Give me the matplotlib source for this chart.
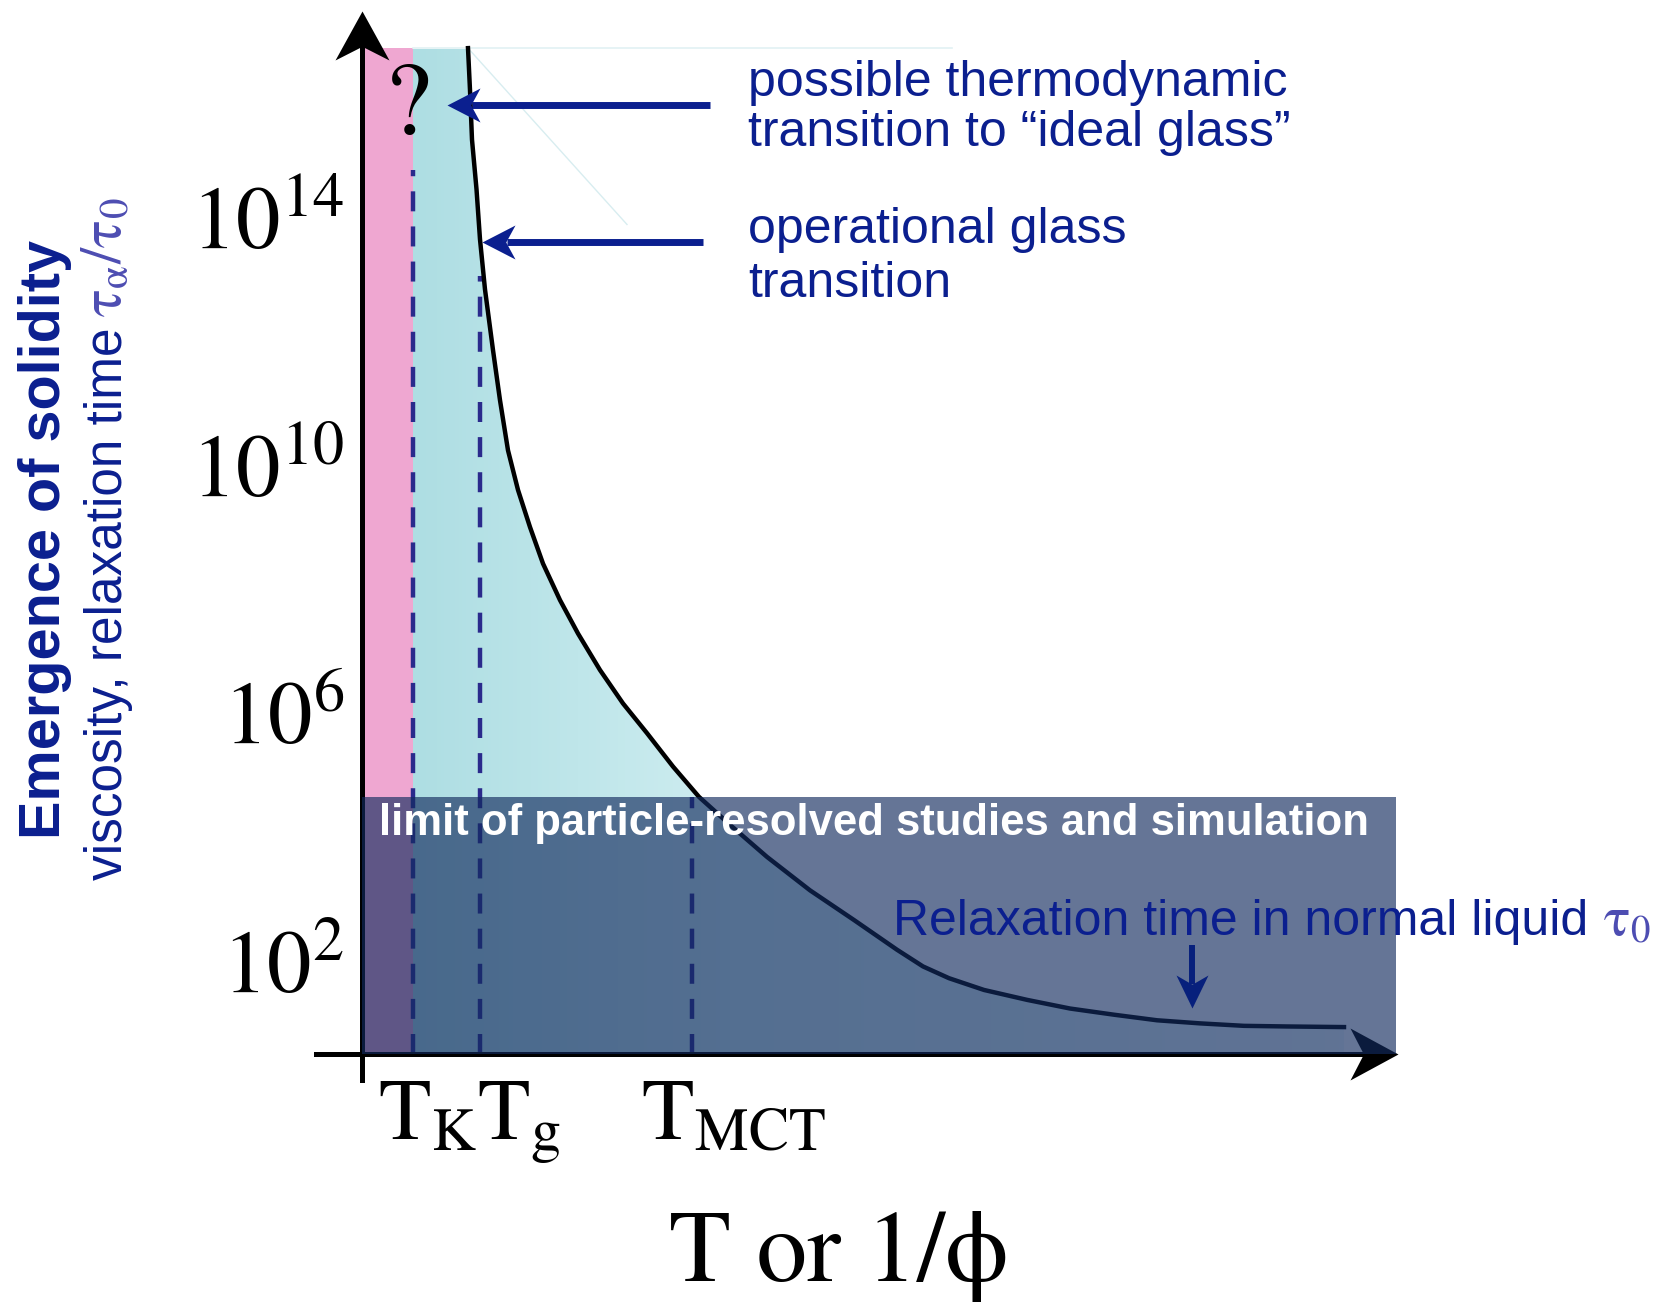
import numpy as np
import matplotlib
matplotlib.use("Agg")
import matplotlib.pyplot as plt
from matplotlib.path import Path
from matplotlib.colors import LinearSegmentedColormap
from matplotlib.ticker import NullLocator

plt.rcParams['font.family'] = ['Liberation Sans', 'DejaVu Sans']
plt.rcParams['mathtext.fontset'] = 'stix'
plt.rcParams['mathtext.default'] = 'rm'

# ---- data (x in arbitrary T units, y as log10 of tau_alpha/tau_0) ----
T_K, T_g, T_MCT = 0.51, 1.18, 3.30
curve_T = [1.06, 1.08, 1.10, 1.145, 1.18, 1.23, 1.31, 1.38, 1.46, 1.56, 1.68,
           1.81, 1.98, 2.16, 2.38, 2.61, 2.85, 3.11, 3.37, 3.70, 4.05, 4.48,
           4.92, 5.35, 5.61, 5.87, 6.22, 6.65, 7.08, 7.52, 7.95, 8.38, 8.82,
           9.25, 9.82]
curve_logtau = [16.72, 16.04, 15.24, 14.44, 13.63, 12.82, 11.84, 11.03, 10.22,
                9.58, 8.98, 8.39, 7.80, 7.26, 6.67, 6.13, 5.65, 5.11, 4.62, 4.14,
                3.65, 3.11, 2.63, 2.15, 1.88, 1.69, 1.50, 1.34, 1.20, 1.10, 1.01,
                0.96, 0.92, 0.91, 0.90]
tick_exp = [2, 6, 10, 14]
tick_labels = [r'$10^{2}$', r'$10^{6}$', r'$10^{10}$', r'$10^{14}$']
T_names = [r'$\mathrm{T_K}$', r'$\mathrm{T_g}$', r'$\mathrm{T_{MCT}}$']
sim_limit = 4.62      # log10 tau reachable by particle-resolved studies
top_log = 16.72
tk_dash_top, tg_dash_top = 14.75, 13.03

NAVY = '#0b1f8f'
TAU_C = '#4d4db2'
W, H = 1661, 1302

fig = plt.figure(figsize=(W / 100, H / 100), dpi=100)
ax = fig.add_axes([362 / W, 1 - 1054 / H, (1398 - 362) / W, (1054 - 11) / H])
ax.set_yscale('log')
ylo, yhi = 10 ** 0.465, 10 ** 17.32
xlo, xhi = 0, 10.36

curve_tau = [10 ** v for v in curve_logtau]
ytop = 10 ** top_log


def fx(px):
    return px / W


def fy(py):
    return 1 - py / H


def head(x, y, angle, length, halfw, color, z):
    w = halfw / length
    v = np.array([[0, 0], [-1, w], [-0.72, 0], [-1, -w], [0, 0]])
    a = np.deg2rad(angle)
    R = np.array([[np.cos(a), -np.sin(a)], [np.sin(a), np.cos(a)]])
    v = v @ R.T
    p = Path(v, [Path.MOVETO, Path.LINETO, Path.LINETO, Path.LINETO, Path.CLOSEPOLY])
    ax.plot([x], [y], marker=p, ms=1.44 * length, color=color, mew=0,
            ls='none', clip_on=False, zorder=z)


# pink region (below T_K)
ax.fill_between([0, T_K], ylo, ytop, color='#efa7d1', lw=0, zorder=1)

# cyan gradient region under the curve
poly = ax.fill_between([T_K] + curve_T, [ytop] + curve_tau, ylo,
                       facecolor='none', lw=0, zorder=1)
cmap = LinearSegmentedColormap.from_list(
    'cy', [(0, '#aedee3'), (0.35, '#d0eef1'), (1, '#f2fafb')])
im = ax.imshow(np.linspace(0, 1, 256)[None, :], cmap=cmap, aspect='auto',
               extent=(T_K, curve_T[-1], ylo, ytop), origin='lower', zorder=1,
               interpolation='bilinear')
im.set_clip_path(poly.get_paths()[0], transform=ax.transData)

# faint top border and diagonal artefact
ax.plot([T_K, 5.9], [ytop, ytop], color='#e2f1f3', lw=1.2, zorder=1)
ax.plot([curve_T[0], 2.65], [ytop, 10 ** 13.87], color='#d8edf0', lw=1.0, zorder=1)

# dashed temperature markers
dash = dict(color='#2a2a8c', lw=3.2, ls=(0, (4.5, 3.4)), zorder=2)
ax.plot([T_K, T_K], [ylo, 10 ** tk_dash_top], **dash)
ax.plot([T_g, T_g], [ylo, 10 ** tg_dash_top], **dash)
ax.plot([T_MCT, T_MCT], [ylo, 10 ** sim_limit], **dash)

# relaxation time curve
ax.plot(curve_T, curve_tau, color='black', lw=3.2, zorder=3)

# axes with arrows
ax.plot([-0.46, 10.0], [ylo, ylo], color='black', lw=3.6, clip_on=False, zorder=4)
head(xhi, ylo, 0, 48, 26, 'black', 4)
ax.plot([0, 0], [10 ** 0.045, 10 ** 16.8], color='black', lw=3.6, clip_on=False, zorder=4)
head(0, yhi, 90, 49, 27, 'black', 4)

# limit of simulations band
ax.fill_between([0, 10.34], ylo, 10 ** sim_limit, color=(0.07, 0.17, 0.37),
                alpha=0.65, lw=0, zorder=5)

# navy annotation arrows
for tail, tip, ly in [(3.48, 0.847, 15.80), (3.41, 1.197, 13.59)]:
    ax.plot([tail, tip + 0.25], [10 ** ly, 10 ** ly], color=NAVY, lw=5,
            solid_capstyle='butt', zorder=6)
    head(tip, 10 ** ly, 180, 33, 17, NAVY, 6)
ax.plot([8.30, 8.30], [10 ** 2.23, 10 ** 1.60], color='#07207c', lw=4.3,
        solid_capstyle='butt', zorder=6)
head(8.30, 10 ** 1.21, -90, 33, 16, '#07207c', 6)

ax.set_xlim(xlo, xhi)
ax.set_ylim(ylo, yhi)
ax.set_aspect('auto')
for s in ax.spines.values():
    s.set_visible(False)
ax.set_xticks([])
ax.set_yticks([10 ** e for e in tick_exp], labels=tick_labels)
ax.yaxis.set_minor_locator(NullLocator())
ax.tick_params(axis='y', length=0, pad=13, labelsize=64)

# texts
fig.text(fx(408), fy(110), '?', fontsize=75, family='STIXGeneral',
         ha='center', va='center', zorder=7)
fig.text(fx(748), fy(108), 'possible thermodynamic\ntransition to \u201cideal glass\u201d',
         fontsize=36, color=NAVY, ha='left', va='center', linespacing=1.12)
fig.text(fx(748), fy(257), 'operational glass\ntransition',
         fontsize=36, color=NAVY, ha='left', va='center', linespacing=1.2)
fig.text(fx(379), fy(823), 'limit of particle-resolved studies and simulation',
         fontsize=31.4, fontweight='bold', color='white', ha='left', va='center', zorder=8)
fig.text(fx(893), fy(935), 'Relaxation time in normal liquid',
         fontsize=36, color=NAVY, ha='left', va='baseline', zorder=8)
fig.text(fx(1603), fy(935), r'$\tau_0$', fontsize=40, color=TAU_C,
         ha='left', va='baseline', zorder=8)

fig.text(fx(60), fy(839), 'Emergence of solidity', fontsize=41.5, fontweight='bold',
         color=NAVY, rotation=90, rotation_mode='anchor', ha='left', va='baseline')
fig.text(fx(122), fy(880), 'viscosity, relaxation time', fontsize=37,
         color=NAVY, rotation=90, rotation_mode='anchor', ha='left', va='baseline')
fig.text(fx(122), fy(317), r'$\tau_\alpha/\tau_0$', fontsize=42,
         color=TAU_C, rotation=90, rotation_mode='anchor', ha='left', va='baseline')

for name, px in zip(T_names, [378, 477, 641]):
    fig.text(fx(px), fy(1139), name, fontsize=62, ha='left', va='baseline')
fig.text(fx(669), fy(1281), 'T or 1/\u03d5', fontsize=73, family='STIXGeneral',
         ha='left', va='baseline')

fig.savefig('out.png', dpi=100)
